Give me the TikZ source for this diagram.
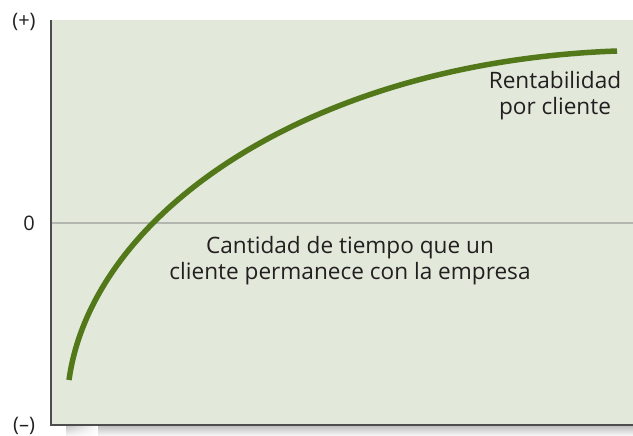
\documentclass[tikz,border=0pt]{standalone}
\usepackage{fontspec}
\setmainfont{Open Sans}
\usetikzlibrary{fadings}
\definecolor{bgc}{RGB}{226,232,218}
\definecolor{axc}{RGB}{77,77,77}
\definecolor{zeroc}{RGB}{180,182,176}
\definecolor{curvec}{RGB}{82,120,26}
\definecolor{txtc}{RGB}{35,31,32}
\tikzset{
  lbl/.style={text=txtc, inner sep=0pt, font=\fontsize{22.6}{26}\selectfont},
  smalllbl/.style={text=txtc, inner sep=0pt, font=\fontsize{20}{24}\selectfont},
  axis/.style={draw=axc, line width=2pt},
  shadowbar/.style={top color=black!24, bottom color=white},
}
\begin{document}
\begin{tikzpicture}[x=1pt,y=-1pt]
\useasboundingbox (0,0) rectangle (633,436);
% shadow under the plot area
\shade[shadowbar] (66,426) rectangle (633,437);
\fill[white, path fading=west] (64,425) rectangle (98,438);
\fill[bgc] (51,20) rectangle (633,425);
\coordinate (o) at (51,425);
\coordinate (ytop) at (51,20);
\coordinate (xend) at (633,425);
\coordinate (z0) at (51,223);
\coordinate (z1) at (633,223);
\coordinate (cs) at (69,380);
\coordinate (ce) at (617,51);
\draw[draw=zeroc, line width=1.6pt] (z0) -- (z1);
\draw[curvec, line width=5.5pt] (cs) .. controls (92,213) and (310,62) .. (ce);
\draw[axis] (ytop) -- (o) -- (xend);
\node[smalllbl] (plus) at (24,22) {(+)};
\node[smalllbl] (zero) at (29,223) {0};
\node[smalllbl] (minus) at (24,426) {(–)};
\node[lbl, align=center, anchor=north] (rent) at (555,71) {Rentabilidad\\por cliente};
\node[lbl, align=center, anchor=north] (cant) at (350,236) {Cantidad de tiempo que un\\cliente permanece con la empresa};
\end{tikzpicture}
\end{document}
